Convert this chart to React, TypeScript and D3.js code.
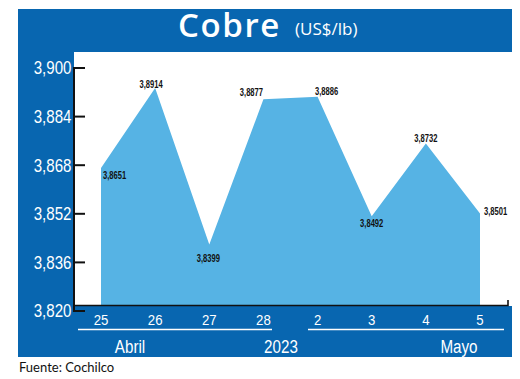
import React from "react";
import * as d3 from "d3";

const days = ["25", "26", "27", "28", "2", "3", "4", "5"];
const prices = [3.8651, 3.8914, 3.8399, 3.8877, 3.8886, 3.8492, 3.8732, 3.8501];
const yTicks = [3.82, 3.836, 3.852, 3.868, 3.884, 3.9];
const monthLabels = ["Abril", "2023", "Mayo"];

// label placement relative to each point (layout only)
const labelPlace: { dx: number; dy: number; anchor: string }[] = [
  { dx: 2, dy: 11, anchor: "start" },
  { dx: -4, dy: 0, anchor: "middle" },
  { dx: -1, dy: 17, anchor: "middle" },
  { dx: -12, dy: -3, anchor: "middle" },
  { dx: 9, dy: -2, anchor: "middle" },
  { dx: 0, dy: 11, anchor: "middle" },
  { dx: 0, dy: -1, anchor: "middle" },
  { dx: 4, dy: 1, anchor: "start" },
];

const W = 520;
const H = 379;
const BLUE = "#0866b0";
const AREA = "#56b3e4";
const SANS = "'Liberation Sans', Arial, sans-serif";

const fmt = (v: number, d: number) => v.toFixed(d).replace(".", ",");

function CText(props: {
  x: number;
  y: number;
  s: number;
  size: number;
  anchor?: string;
  fill: string;
  weight?: number;
  dy?: string;
  children: React.ReactNode;
}) {
  return (
    <text
      transform={`translate(${props.x},${props.y}) scale(${props.s},1)`}
      dy={props.dy}
      textAnchor={props.anchor || "start"}
      fill={props.fill}
      fontFamily={SANS}
      fontWeight={props.weight || 400}
      fontSize={props.size}
    >
      {props.children}
    </text>
  );
}

export default function App() {
  const x = d3.scalePoint<string>().domain(days).range([101, 480]);
  const y = d3.scaleLinear().domain([3.82, 3.9]).range([311, 68]);
  const pts = days.map((d, i) => ({ d, v: prices[i] }));
  const area = d3
    .area<{ d: string; v: number }>()
    .x((p) => x(p.d) as number)
    .y0(y(3.82))
    .y1((p) => y(p.v));

  return (
    <svg
      width={W}
      height={H}
      style={{ position: "absolute", left: 0, top: 0, background: "#fff" }}
    >
      {/* title band */}
      <rect x={18} y={9} width={494} height={43} fill={BLUE} />
      <text
        x={178}
        y={37}
        fill="#fff"
        fontFamily="'Open Sans', sans-serif"
        fontWeight={600}
        fontSize={33}
        letterSpacing={1.6}
      >
        Cobre
      </text>
      <text
        x={295}
        y={35}
        fill="#fff"
        fontFamily="'Open Sans', sans-serif"
        fontSize={17}
      >
        (US$/lb)
      </text>

      {/* left column */}
      <rect x={18} y={52} width={56} height={305} fill={BLUE} />
      {/* bottom band */}
      <rect x={18} y={306} width={494} height={51} fill={BLUE} />

      {/* area */}
      <g transform="translate(0,-6)">
        <path d={area(pts) || ""} fill={AREA} />
      </g>

      {/* x axis line */}
      <path d="M74,305.5 H508 V300" fill="none" stroke="#111" strokeWidth={1.6} />
      {/* y axis */}
      <line x1={74} x2={74} y1={y(3.9) - 1} y2={y(3.82) + 1} stroke="#111" strokeWidth={2} />
      {yTicks.map((t) => (
        <g key={t}>
          <line x1={74} x2={85} y1={y(t)} y2={y(t)} stroke="#111" strokeWidth={2} />
          <CText x={71.5} y={y(t)} dy="0.36em" anchor="end" fill="#fff" size={18} s={0.84}>
            {fmt(t, 3)}
          </CText>
        </g>
      ))}

      {/* data labels */}
      <g transform="translate(0,-6)">
        {pts.map((p, i) => (
          <CText
            key={i}
            x={(x(p.d) as number) + labelPlace[i].dx}
            y={y(p.v) + labelPlace[i].dy}
            anchor={labelPlace[i].anchor}
            fill="#111"
            size={11.5}
            s={0.66}
            weight={700}
          >
            {fmt(p.v, 4)}
          </CText>
        ))}
      </g>

      {/* x labels */}
      {days.map((d) => (
        <CText key={d} x={x(d) as number} y={325} anchor="middle" fill="#fff" size={15} s={0.88}>
          {d}
        </CText>
      ))}
      <line x1={78} x2={272} y1={329.5} y2={329.5} stroke="#fff" strokeWidth={1.5} />
      <line x1={308} x2={504} y1={329.5} y2={329.5} stroke="#fff" strokeWidth={1.5} />
      {monthLabels.map((m, i) => (
        <CText key={m} x={[130, 281, 459][i]} y={353} anchor="middle" fill="#fff" size={19} s={0.8}>
          {m}
        </CText>
      ))}

      <text x={19} y={372} fill="#111" fontFamily="Lato, sans-serif" fontSize={13}>
        Fuente: Cochilco
      </text>
    </svg>
  );
}
